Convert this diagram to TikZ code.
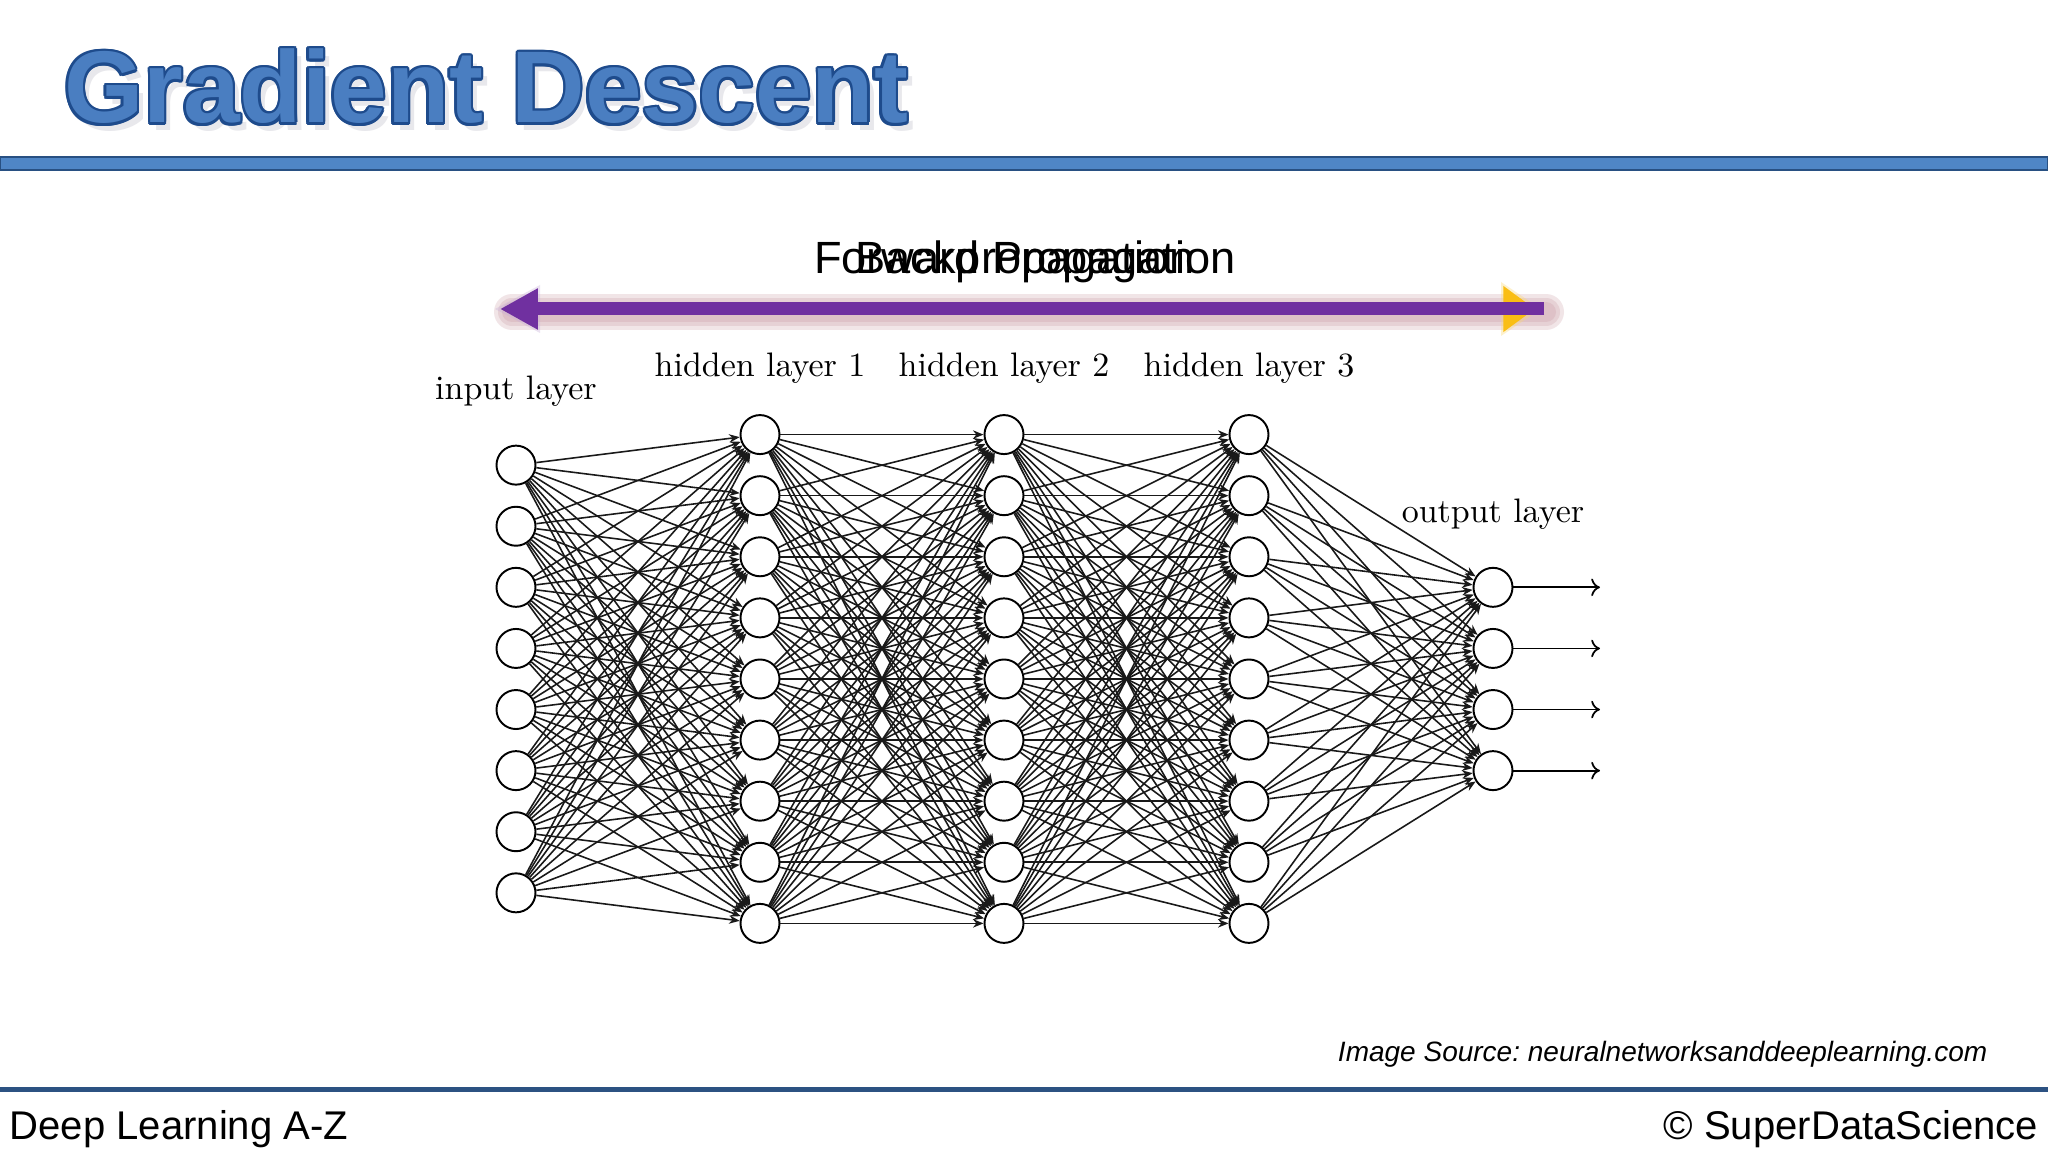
\documentclass[tikz,border=0pt]{standalone}
\usepackage{fontspec}
\usepackage{tikz}
\usetikzlibrary{arrows.meta, positioning, calc}

\newfontfamily\arial{Liberation Sans}
\frenchspacing

\definecolor{titlefill}{RGB}{74,126,193}
\definecolor{titleedge}{RGB}{30,75,140}
\definecolor{titleshadow}{RGB}{232,232,236}
\definecolor{bandfill}{RGB}{79,134,198}
\definecolor{bandedge}{RGB}{40,80,130}
\definecolor{footblue}{RGB}{44,82,130}
\definecolor{backpurple}{RGB}{112,48,160}
\definecolor{fwdgold}{RGB}{250,190,20}
\definecolor{glowpink}{RGB}{195,140,150}

% blue title letters with a dark rim and a soft shadow
\newcommand\outlinetitle[1]{%
  \makebox[0pt][l]{\kern1.8pt\raisebox{-2pt}{\color{titleshadow}#1}}%
  \foreach \ang in {0,30,...,330}{%
    \pgfmathsetlengthmacro\offx{0.7pt*cos(\ang)}%
    \pgfmathsetlengthmacro\offy{0.7pt*sin(\ang)}%
    \makebox[0pt][l]{\kern\offx\raisebox{\offy}{\color{titleedge}#1}}}%
  {\color{titlefill}#1}}

\begin{document}
\begin{tikzpicture}[
    neuron/.style={circle, draw=black, line width=0.55pt, fill=white, minimum size=0.39cm, inner sep=0pt},
    synapse/.style={-{Stealth[length=3pt, width=2.4pt]}, line width=0.45pt, draw=black!90},
    outarrow/.style={-{To[length=2.5pt, width=5pt]}, line width=0.5pt},
    layerlabel/.style={anchor=base, inner sep=0pt, font=\fontsize{9.67pt}{11pt}\selectfont},
    proptext/.style={anchor=base, inner sep=0pt, font=\arial\fontsize{12.85pt}{14pt}\selectfont},
    footer/.style={inner sep=0pt, font=\arial\fontsize{11.4pt}{13pt}\selectfont},
    glow/.style={glowpink, opacity=0.22, line cap=round}
]
\useasboundingbox (0,0) rectangle (20.48,11.52);
\fill[white] (0,0) rectangle (20.48,11.52);

% title and band
\node[anchor=base west, inner sep=0pt, font=\arial\bfseries\fontsize{29pt}{31pt}\selectfont] (title) at (0.635,10.29) {\outlinetitle{Gradient Descent}};
\draw[fill=bandfill, draw=bandedge, line width=0.5pt] (0,9.82) rectangle (20.48,9.95);

% propagation arrows
\node[proptext] (fwd) at (10.25,8.78) {Forward Propagation};
\node[proptext] (bwd) at (10.25,8.78) {Backpropagation};
\coordinate (leftend) at (5.00,8.43);
\coordinate (rightend) at (15.44,8.43);
\coordinate (fwdstart) at (5.50,8.43);
\coordinate (fwdtip) at (15.35,8.43);
\foreach \w in {0.36,0.28,0.20}
    \draw[glow, line width=\w cm] ($(leftend)+(0.12,-0.03)$) -- ($(rightend)+(0.02,-0.03)$);
\fill[backpurple!40, opacity=0.35] ($(leftend)+(-0.05,0)$) -- ++(0.45,0.24) -- ++(0,-0.48) -- cycle;
\fill[fwdgold!60, opacity=0.35] ($(fwdtip)+(0.06,0)$) -- ++(-0.40,0.27) -- ++(0,-0.54) -- cycle;
\draw[fwdgold, line width=3.7pt, -{Triangle[length=9pt, width=12.5pt]}] (fwdstart) -- (fwdtip);
\draw[backpurple, line width=3.7pt, -{Triangle[length=10.8pt, width=11pt]}] (rightend) -- (leftend);

% layers
\foreach \i in {1,...,8}
    \node[neuron] (I-\i) at (5.16,{4.73+(4.5-\i)*0.611}) {};
\foreach \l/\x in {1/7.60, 2/10.04, 3/12.49}
    \foreach \i in {1,...,9}
        \node[neuron] (H\l-\i) at (\x,{4.73+(5-\i)*0.611}) {};
\foreach \i in {1,...,4} {
    \node[neuron] (O-\i) at (14.93,{4.73+(2.5-\i)*0.611}) {};
    \coordinate (out-\i) at (16.00,{4.73+(2.5-\i)*0.611});
}

\node[layerlabel] (inlabel) at (5.16,7.52) {input layer};
\node[layerlabel] (h1label) at (7.60,7.75) {hidden layer 1};
\node[layerlabel] (h2label) at (10.04,7.75) {hidden layer 2};
\node[layerlabel] (h3label) at (12.49,7.75) {hidden layer 3};
\node[layerlabel] (outlabel) at (14.93,6.29) {output layer};

% connections
\foreach \i in {1,...,8}
    \foreach \j in {1,...,9}
        \draw[synapse] (I-\i) -- (H1-\j);
\foreach \l/\m in {1/2, 2/3}
    \foreach \i in {1,...,9}
        \foreach \j in {1,...,9}
            \draw[synapse] (H\l-\i) -- (H\m-\j);
\foreach \i in {1,...,9}
    \foreach \j in {1,...,4}
        \draw[synapse] (H3-\i) -- (O-\j);
\foreach \j in {1,...,4}
    \draw[outarrow] (O-\j) -- (out-\j);

% footer
\node[anchor=base east, inner sep=0pt, font=\arial\itshape\fontsize{7.97pt}{9pt}\selectfont] (source) at (19.88,0.90) {Image Source: neuralnetworksanddeeplearning.com};
\fill[footblue] (0,0.60) rectangle (20.48,0.65);
\node[footer, anchor=base west] (course) at (0.09,0.12) {Deep Learning A-Z};
\node[footer, anchor=base east] (brand) at (20.39,0.12) {© SuperDataScience};
\end{tikzpicture}
\end{document}
